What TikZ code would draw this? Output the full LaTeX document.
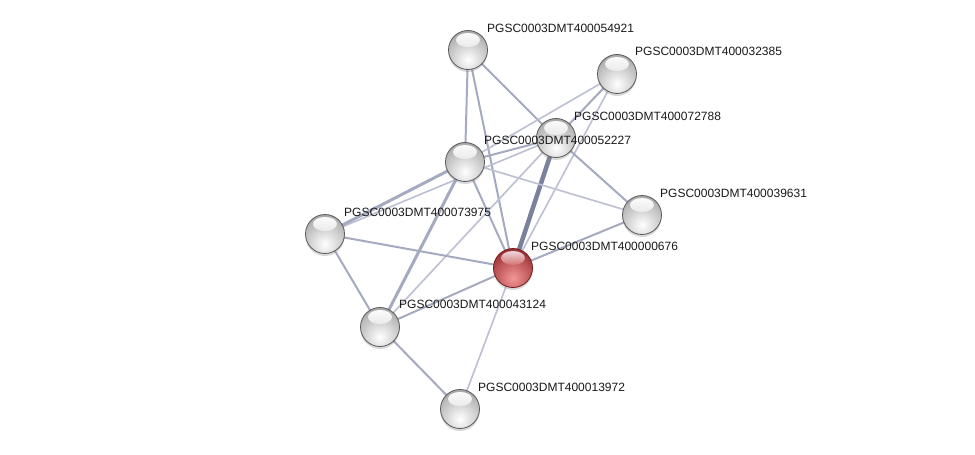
\documentclass[tikz,border=0pt]{standalone}
\usepackage{fontspec}
\setmainfont{Liberation Sans}
\usetikzlibrary{shadows,calc}
\definecolor{edgec}{RGB}{166,170,192}
\definecolor{edgelt}{RGB}{188,192,210}
\definecolor{edgedk}{RGB}{122,129,154}
\definecolor{redout}{RGB}{150,42,46}
\definecolor{redin}{RGB}{244,150,150}
\definecolor{redline}{RGB}{115,28,30}
\tikzset{
  ppedge/.style={draw=edgec, line width=2pt},
  pplight/.style={draw=edgelt, line width=1.6pt},
  ppmed/.style={draw=edgec, line width=3pt},
  ppthick/.style={draw=edgedk, line width=4.5pt},
  ppball/.style={circle, minimum size=39pt, inner sep=0pt, draw=gray!70!black, line width=0.8pt,
    drop shadow={opacity=0.3, shadow xshift=0pt, shadow yshift=-2.5pt},
    path picture={
      \coordinate (pc) at (path picture bounding box.center);
      \shade[inner color=white, outer color=gray!70] ($(pc)+(0,10)$) circle (30);
      \shade[top color=white, bottom color=gray!15, opacity=0.95] ($(pc)+(0,-10)$) ellipse (12 and 7);
    }},
  ppred/.style={circle, minimum size=39pt, inner sep=0pt, draw=redline, line width=0.8pt,
    drop shadow={opacity=0.3, shadow xshift=0pt, shadow yshift=-2.5pt},
    path picture={
      \coordinate (pc) at (path picture bounding box.center);
      \shade[inner color=redin, outer color=redout] ($(pc)+(0,10)$) circle (30);
      \shade[top color=white, bottom color=redin!70!redout, opacity=0.8] ($(pc)+(0,-10)$) ellipse (12 and 7);
    }},
  pplbl/.style={anchor=west, inner sep=0pt, font=\fontsize{12}{14}\selectfont, text=black!90}
}
\begin{document}
\begin{tikzpicture}[x=1pt, y=-1pt]
\fill[white] (0,0) rectangle (975,455);
\useasboundingbox (0,0) rectangle (975,455);
% node coordinates
\coordinate (pA) at (468,50);
\coordinate (pB) at (617,74);
\coordinate (pC) at (556,138);
\coordinate (pD) at (465,162);
\coordinate (pE) at (642,215);
\coordinate (pF) at (325,234);
\coordinate (pG) at (513,268);
\coordinate (pH) at (380,327);
\coordinate (pI) at (460,409);
% edges (drawn first, below spheres)
\draw[ppedge] (pA) -- (pD);
\draw[ppedge] (pA) -- (pG);
\draw[ppedge] (pA) -- (pC);
\draw[pplight] (pB) -- (pD);
\draw[ppedge] (pB) -- (pC);
\draw[pplight] (pB) -- (pG);
\draw[ppedge] (pC) -- (pD);
\draw[ppthick] (pC) -- (pG);
\draw[ppedge] (pC) -- (pE);
\draw[pplight] (pC) -- (pH);
\draw[pplight] (pC) -- (pF);
\draw[ppmed] (pD) -- (pF);
\draw[ppmed] (pD) -- (pH);
\draw[ppedge] (pD) -- (pG);
\draw[pplight] (pD) -- (pE);
\draw[ppedge] (pF) -- (pG);
\draw[ppedge] (pF) -- (pH);
\draw[ppedge] (pH) -- (pG);
\draw[ppedge] (pH) -- (pI);
\draw[pplight] (pG) -- (pI);
\draw[ppedge] (pG) -- (pE);
% spheres
\node[ppball] (A) at (pA) {};
\node[ppball] (B) at (pB) {};
\node[ppball] (C) at (pC) {};
\node[ppball] (D) at (pD) {};
\node[ppball] (E) at (pE) {};
\node[ppball] (F) at (pF) {};
\node[ppred]  (G) at (pG) {};
\node[ppball] (H) at (pH) {};
\node[ppball] (I) at (pI) {};
% labels
\node[pplbl] (lA) at ($(pA)+(19,-22)$) {PGSC0003DMT400054921};
\node[pplbl] (lB) at ($(pB)+(18,-23)$) {PGSC0003DMT400032385};
\node[pplbl] (lC) at ($(pC)+(18,-22)$) {PGSC0003DMT400072788};
\node[pplbl] (lD) at ($(pD)+(19,-22)$) {PGSC0003DMT400052227};
\node[pplbl] (lE) at ($(pE)+(18,-22)$) {PGSC0003DMT400039631};
\node[pplbl] (lF) at ($(pF)+(19,-22)$) {PGSC0003DMT400073975};
\node[pplbl] (lG) at ($(pG)+(18,-22)$) {PGSC0003DMT400000676};
\node[pplbl] (lH) at ($(pH)+(19,-23)$) {PGSC0003DMT400043124};
\node[pplbl] (lI) at ($(pI)+(18,-22)$) {PGSC0003DMT400013972};
\end{tikzpicture}
\end{document}
